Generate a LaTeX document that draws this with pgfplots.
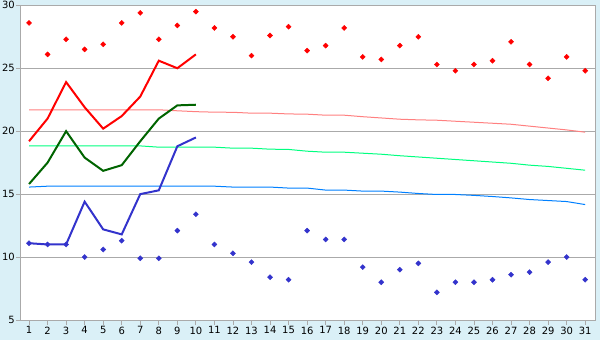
\documentclass[border=0pt]{standalone}
\usepackage{fontspec}
\setmainfont{DejaVu Sans}
\usepackage{pgfplots}
\usepackage{pgfplotstable}
\pgfplotsset{compat=1.18}
\definecolor{bgblue}{HTML}{DAF0F7}
\definecolor{axgray}{HTML}{AAAAAA}
\definecolor{obsred}{HTML}{FF0000}
\definecolor{obsgreen}{HTML}{006400}
\definecolor{obsblue}{HTML}{3333CC}
\definecolor{normred}{HTML}{FF8080}
\definecolor{normgreen}{HTML}{00FF80}
\definecolor{normblue}{HTML}{0080FF}

\pgfplotstableread{
d recmax recmin nmax nmean nmin
1 28.6 11.1 21.7 18.83 15.56
2 26.1 11.0 21.7 18.83 15.63
3 27.3 11.0 21.7 18.83 15.63
4 26.5 10.0 21.7 18.83 15.63
5 26.9 10.6 21.7 18.83 15.63
6 28.6 11.3 21.7 18.83 15.63
7 29.4 9.9 21.7 18.83 15.63
8 27.3 9.9 21.7 18.73 15.63
9 28.4 12.1 21.62 18.73 15.63
10 29.5 13.4 21.55 18.73 15.63
11 28.2 11.0 21.51 18.73 15.63
12 27.5 10.3 21.5 18.65 15.56
13 26.0 9.6 21.43 18.65 15.56
14 27.6 8.4 21.43 18.57 15.56
15 28.3 8.2 21.37 18.55 15.48
16 26.4 12.1 21.35 18.41 15.48
17 26.8 11.4 21.27 18.33 15.32
18 28.2 11.4 21.27 18.33 15.32
19 25.9 9.2 21.15 18.25 15.24
20 25.7 8.0 21.05 18.17 15.24
21 26.8 9.0 20.95 18.05 15.16
22 27.5 9.5 20.9 17.95 15.05
23 25.3 7.2 20.87 17.85 14.97
24 24.8 8.0 20.79 17.75 14.97
25 25.3 8.0 20.71 17.65 14.9
26 25.6 8.2 20.63 17.55 14.81
27 27.1 8.6 20.55 17.45 14.7
28 25.3 8.8 20.4 17.3 14.57
29 24.2 9.6 20.25 17.2 14.49
30 25.9 10.0 20.1 17.05 14.41
31 24.8 8.2 19.92 16.9 14.17
}\tablelong

\pgfplotstableread{
d tmax tmean tmin
1 19.2 15.8 11.1
2 21.0 17.5 11.0
3 23.9 20.0 11.0
4 21.9 17.9 14.4
5 20.2 16.85 12.2
6 21.2 17.3 11.8
7 22.75 19.2 15.0
8 25.6 21.0 15.3
9 25.0 22.05 18.8
10 26.1 22.1 19.5
}\tableobs

\begin{document}
\begin{tikzpicture}
\fill[bgblue] (-20.5bp,-20bp) rectangle (579.5bp,320bp);
\begin{axis}[
  scale only axis,
  width=574.5bp, height=314.7bp,
  at={(0,0)}, anchor=south west,
  xmin=0.54, xmax=31.53,
  ymin=5, ymax=30,
  xtick={1,...,31},
  ytick={5,10,...,30},
  xtick pos=bottom, ytick pos=left,
  tick align=outside,
  major tick length=4.5bp,
  tick style={axgray, line width=0.9bp},
  axis line style={axgray, line width=0.9bp},
  axis background/.style={fill=white},
  ymajorgrids,
  major grid style={axgray, line width=0.9bp},
  /pgf/number format/assume math mode=true,
  ticklabel style={font=\fontsize{10}{12}\selectfont, text=black},
  xticklabel style={inner sep=1pt, yshift=-1bp},
  yticklabel style={inner sep=1pt},
  clip=false,
]
\addplot[normred, line width=1bp, no markers] table[x=d, y=nmax] {\tablelong};
\addplot[normgreen, line width=1bp, no markers] table[x=d, y=nmean] {\tablelong};
\addplot[normblue, line width=1bp, no markers] table[x=d, y=nmin] {\tablelong};
\addplot[obsred, line width=2bp, no markers] table[x=d, y=tmax] {\tableobs};
\addplot[obsgreen, line width=2bp, no markers] table[x=d, y=tmean] {\tableobs};
\addplot[obsblue, line width=2bp, no markers] table[x=d, y=tmin] {\tableobs};
\addplot[only marks, mark=square*, mark size=1.8bp, mark options={rotate=45}, color=obsred] table[x=d, y=recmax] {\tablelong};
\addplot[only marks, mark=square*, mark size=1.8bp, mark options={rotate=45}, color=obsblue] table[x=d, y=recmin] {\tablelong};
\end{axis}
\end{tikzpicture}
\end{document}
